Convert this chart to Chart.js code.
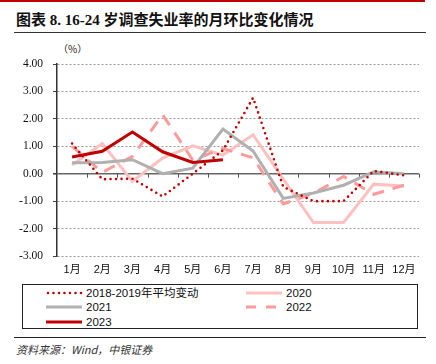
<!DOCTYPE html>
<html>
<head>
<meta charset="utf-8">
<script src="https://cdn.jsdelivr.net/npm/chart.js@4.4.0/dist/chart.umd.min.js"></script>
<style>
  html, body { margin: 0; padding: 0; background: #fff; }
  body { width: 436px; height: 364px; position: relative; overflow: hidden; }
  .top-rule { position: absolute; left: 0; top: 0; width: 425px; height: 2px; background: #c00000; }
  .title {
    position: absolute; left: 16px; top: 8px;
    font-family: "Liberation Serif", "Noto Sans CJK SC", serif;
    font-weight: bold; font-size: 15px; color: #111; white-space: nowrap;
  }
  .title-rule { position: absolute; left: 14px; top: 32px; width: 412px; height: 1px; background: #333; }
  .unit { position: absolute; left: 58px; top: 41px; font-family: "Noto Sans CJK SC", sans-serif; font-size: 10px; color: #222; }
  #wrap { position: absolute; left: 0; top: 40px; width: 436px; height: 244px; }
  .legend {
    position: absolute; left: 22px; top: 284px; width: 396px; height: 45px;
    border: 1px solid #222; box-sizing: border-box;
    font-family: "Liberation Sans", "Noto Sans CJK SC", sans-serif; font-size: 11.5px; color: #111;
  }
  .item { position: absolute; height: 14px; line-height: 14px; white-space: nowrap; }
  .item svg { position: absolute; left: 0; top: 2px; }
  .item span { position: absolute; left: 40px; top: 0; }
  .src-rule { position: absolute; left: 14px; top: 337px; width: 412px; height: 1px; background: #222; }
  .source {
    position: absolute; left: 16px; top: 341px;
    font-family: "Noto Sans CJK SC", "Liberation Serif", serif; font-style: italic;
    font-size: 11px; color: #333;
  }
</style>
</head>
<body>
<div class="top-rule"></div>
<div class="title">图表 8. 16-24 岁调查失业率的月环比变化情况</div>
<div class="title-rule"></div>
<div class="unit">（%）</div>
<div id="wrap"><canvas id="chart" width="436" height="244"></canvas></div>
<div class="legend" id="legend"></div>
<div class="src-rule"></div>
<div class="source">资料来源：Wind，中银证券</div>

<script>
// 月份
const months = ['1月', '2月', '3月', '4月', '5月', '6月', '7月', '8月', '9月', '10月', '11月', '12月'];

// 各年度月环比变化 (%)
const avg1819 = [1.1, -0.2, -0.18, -0.83, 0.0, 0.85, 2.77, -0.48, -1.0, -1.0, 0.1, -0.06];
const y2020 = [0.32, 1.1, -0.28, 0.57, 1.02, 0.68, 1.42, -0.2, -1.78, -1.78, -0.38, -0.45];
const y2021 = [0.4, 0.41, 0.51, 0.0, 0.2, 1.63, 0.83, -0.9, -0.7, -0.42, 0.07, 0.0];
const y2022 = [1.0, 0.05, 0.63, 2.15, 0.5, 0.92, 0.58, -1.1, -0.72, -0.1, -0.75, -0.42];
const y2023 = [0.61, 0.82, 1.52, 0.8, 0.41, 0.51];

// Y轴刻度
const yMin = -3;
const yMax = 4;
const yStep = 1;

const series = [
  { label: '2018-2019年平均变动', data: avg1819, color: '#c00000', width: 2.6, dash: [0, 5.5], cap: 'round', order: 1 },
  { label: '2020', data: y2020, color: '#ffc0c0', width: 3, dash: [], cap: 'butt', order: 4 },
  { label: '2021', data: y2021, color: '#b0b0b0', width: 3, dash: [], cap: 'butt', order: 2 },
  { label: '2022', data: y2022, color: '#ff9a9a', width: 3, dash: [12, 9], cap: 'butt', order: 3 },
  { label: '2023', data: y2023, color: '#c00000', width: 3, dash: [], cap: 'butt', order: 0 }
];

// 零轴上的刻度线
const zeroTicks = {
  id: 'zeroTicks',
  beforeDatasetsDraw(chart) {
    const x = chart.scales.x, y = chart.scales.y;
    const y0 = y.getPixelForValue(0);
    const ctx = chart.ctx;
    ctx.save();
    ctx.strokeStyle = '#555';
    ctx.lineWidth = 1;
    ctx.beginPath();
    for (let i = 1; i <= months.length; i++) {
      let px;
      if (i === months.length) px = x.right;
      else px = (x.getPixelForValue(i - 1) + x.getPixelForValue(i)) / 2;
      px = Math.round(px) + 0.5;
      ctx.moveTo(px, y0);
      ctx.lineTo(px, y0 + 4);
    }
    ctx.stroke();
    ctx.restore();
  }
};

window.addEventListener('load', function () {
  const ctx = document.getElementById('chart').getContext('2d');
  new Chart(ctx, {
    type: 'line',
    data: {
      labels: months,
      datasets: series.map(s => ({
        label: s.label,
        data: s.data,
        borderColor: s.color,
        backgroundColor: s.color,
        borderWidth: s.width,
        borderDash: s.dash,
        borderCapStyle: s.cap,
        pointRadius: 0,
        tension: 0,
        fill: false,
        order: s.order
      }))
    },
    options: {
      responsive: false,
      animation: false,
      layout: { padding: { left: 0, right: 17, top: 24, bottom: 0 } },
      plugins: { legend: { display: false }, tooltip: { enabled: false } },
      scales: {
        x: {
          offset: true,
          grid: { display: false, drawTicks: false },
          border: { display: false },
          ticks: {
            padding: 7,
            color: '#111',
            font: { family: '"Liberation Sans", "Noto Sans CJK SC", sans-serif', size: 11 }
          },
          afterFit(scale) { scale.height = 28; }
        },
        y: {
          min: yMin,
          max: yMax,
          grid: {
            color: c => (c.tick && c.tick.value === 0) ? '#666' : '#9a9a9a',
            lineWidth: c => (c.tick && c.tick.value === 0) ? 1.6 : 1,
            tickLength: 4,
            tickColor: '#444'
          },
          border: {
            display: true,
            color: '#333',
            width: 1.5,
            dash: c => (c.tick && c.tick.value === 0) ? [] : [2, 2]
          },
          ticks: {
            stepSize: yStep,
            padding: 10,
            color: '#111',
            font: { family: '"Liberation Serif", serif', size: 11.5 },
            callback: v => v.toFixed(2)
          },
          afterFit(scale) { scale.width = 57; }
        }
      }
    },
    plugins: [zeroTicks]
  });

  // 图例
  const legendPos = [
    { left: 23, top: 1 },   // 2018-2019
    { left: 223, top: 1 },  // 2020
    { left: 23, top: 15 },  // 2021
    { left: 223, top: 15 }, // 2022
    { left: 23, top: 30 }   // 2023
  ];
  const legend = document.getElementById('legend');
  series.forEach((s, i) => {
    const item = document.createElement('div');
    item.className = 'item';
    item.style.left = legendPos[i].left + 'px';
    item.style.top = legendPos[i].top + 'px';
    const dash = s.dash.length ? 'stroke-dasharray="' + (s.dash[0] === 0 ? '0 5.5' : '10 10') + '"' : '';
    item.innerHTML =
      '<svg width="38" height="10"><line x1="' + (s.cap === 'round' ? 2 : 0) + '" y1="5" x2="36" y2="5" stroke="' + s.color +
      '" stroke-width="' + s.width + '" stroke-linecap="' + s.cap + '" ' + dash + '/></svg>' +
      '<span>' + s.label + '</span>';
    legend.appendChild(item);
  });
});
</script>
</body>
</html>
